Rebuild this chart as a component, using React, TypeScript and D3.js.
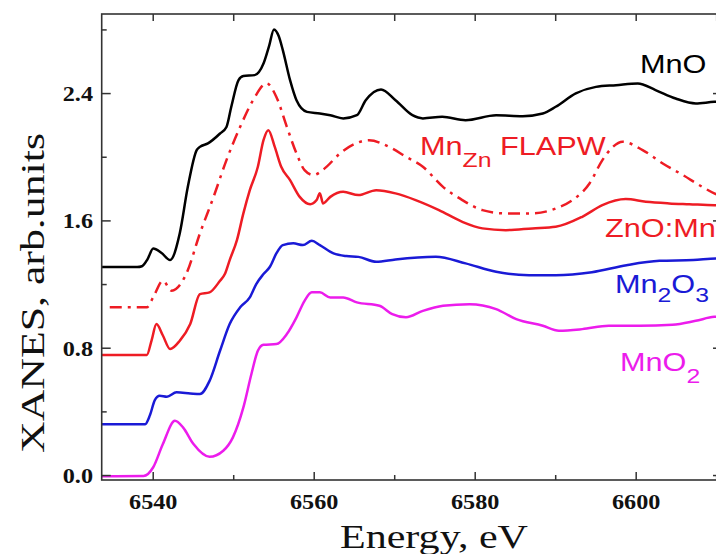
import React from "react";
import * as d3 from "d3";

const W = 716;
const H = 554;

const xTicksMajor = [6540, 6560, 6580, 6600];
const xTicksMinor = [6550, 6570, 6590, 6610];
const yTicksMajor = [0, 0.8, 1.6, 2.4];
const yTicksMinor = [0.4, 1.2, 2.0, 2.8];
const yTickLabels = ["0.0", "0.8", "1.6", "2.4"];

const mnoE = [6533.6, 6538.0, 6538.6, 6539.3, 6540.0, 6541.0, 6542.1, 6543.3, 6544.3, 6545.4, 6545.8, 6546.8, 6548.3, 6549.1, 6549.7, 6550.6, 6551.2, 6552.6, 6553.7, 6554.4, 6555.0, 6555.6, 6556.1, 6557.0, 6557.8, 6559.1, 6560.7, 6562.0, 6563.6, 6565.3, 6566.4, 6568.3, 6570.1, 6572.2, 6573.5, 6575.9, 6578.8, 6582.6, 6585.9, 6588.4, 6590.0, 6592.5, 6595.0, 6597.5, 6600.2, 6602.4, 6604.9, 6607.4, 6609.7, 6612];
const mnoV = [1.31, 1.31, 1.315, 1.36, 1.427, 1.4, 1.354, 1.523, 1.814, 2.045, 2.065, 2.087, 2.149, 2.19, 2.317, 2.484, 2.51, 2.516, 2.589, 2.7, 2.803, 2.76, 2.673, 2.484, 2.358, 2.285, 2.275, 2.264, 2.244, 2.264, 2.358, 2.426, 2.358, 2.264, 2.244, 2.254, 2.233, 2.264, 2.258, 2.275, 2.317, 2.401, 2.442, 2.453, 2.464, 2.422, 2.369, 2.338, 2.348, 2.35];

const flapwE = [6534.6, 6539.2, 6540.0, 6541.2, 6542.3, 6544.1, 6545.8, 6547.5, 6549.1, 6550.8, 6552.4, 6554.1, 6555.3, 6556.6, 6557.8, 6558.8, 6559.9, 6561.3, 6563.2, 6565.3, 6566.8, 6569.3, 6571.4, 6573.5, 6576.0, 6578.4, 6580.9, 6583.8, 6587.1, 6590.0, 6592.1, 6594.2, 6595.8, 6597.1, 6598.3, 6600.8, 6603.3, 6605.8, 6608.2, 6609.7, 6612];
const flapwV = [1.057, 1.057, 1.12, 1.224, 1.161, 1.266, 1.521, 1.751, 1.982, 2.191, 2.358, 2.464, 2.379, 2.191, 2.024, 1.919, 1.888, 1.93, 2.024, 2.09, 2.107, 2.065, 2.003, 1.94, 1.814, 1.731, 1.668, 1.647, 1.647, 1.678, 1.731, 1.835, 1.982, 2.065, 2.097, 2.045, 1.961, 1.888, 1.814, 1.773, 1.74];

const znoE = [6533.6, 6539.2, 6539.8, 6540.4, 6541.2, 6542.1, 6543.3, 6544.6, 6545.8, 6547.0, 6548.3, 6548.9, 6549.5, 6550.4, 6551.2, 6552.0, 6553.0, 6553.7, 6554.3, 6555.1, 6555.9, 6557.0, 6558.2, 6559.5, 6560.3, 6560.7, 6561.1, 6562.0, 6563.6, 6565.5, 6567.7, 6570.1, 6572.6, 6575.5, 6578.4, 6580.9, 6583.8, 6587.1, 6590.0, 6593.3, 6595.8, 6598.7, 6601.2, 6604.1, 6606.6, 6609.7, 6612];
const znoV = [0.757, 0.757, 0.85, 0.952, 0.88, 0.795, 0.847, 0.952, 1.14, 1.151, 1.224, 1.266, 1.354, 1.479, 1.647, 1.793, 1.94, 2.107, 2.17, 2.065, 1.94, 1.856, 1.751, 1.705, 1.731, 1.773, 1.71, 1.751, 1.783, 1.762, 1.793, 1.773, 1.731, 1.668, 1.594, 1.553, 1.542, 1.553, 1.563, 1.626, 1.699, 1.737, 1.72, 1.71, 1.705, 1.699, 1.7];

const mn2o3E = [6533.6, 6539.0, 6539.6, 6540.2, 6540.8, 6541.7, 6542.9, 6544.6, 6545.8, 6547.0, 6548.3, 6549.5, 6550.8, 6552.0, 6552.8, 6553.7, 6554.5, 6555.3, 6556.1, 6557.4, 6558.6, 6559.7, 6560.7, 6562.4, 6564.0, 6565.5, 6567.7, 6570.1, 6575.1, 6578.8, 6582.6, 6586.7, 6590.0, 6594.5, 6598.8, 6602.9, 6607.1, 6609.9, 6612];
const mn2o3V = [0.323, 0.323, 0.38, 0.474, 0.501, 0.495, 0.523, 0.516, 0.512, 0.595, 0.784, 0.952, 1.057, 1.119, 1.203, 1.266, 1.312, 1.396, 1.448, 1.459, 1.448, 1.475, 1.448, 1.396, 1.379, 1.374, 1.343, 1.358, 1.374, 1.333, 1.28, 1.259, 1.259, 1.278, 1.322, 1.349, 1.354, 1.364, 1.365];

const mno2E = [6533.6, 6538.8, 6540.0, 6541.2, 6542.7, 6543.7, 6545.0, 6547.0, 6548.7, 6549.9, 6551.2, 6552.2, 6553.0, 6553.7, 6555.3, 6556.6, 6557.8, 6558.8, 6559.7, 6560.7, 6562.0, 6563.6, 6565.3, 6568.1, 6569.7, 6571.4, 6573.5, 6576.0, 6579.3, 6582.6, 6585.1, 6588.4, 6590.4, 6593.3, 6596.6, 6600.4, 6604.5, 6607.4, 6609.7, 6612];
const mno2V = [-0.005, -0.003, 0.052, 0.198, 0.344, 0.303, 0.198, 0.118, 0.156, 0.24, 0.428, 0.638, 0.784, 0.822, 0.826, 0.889, 0.994, 1.098, 1.151, 1.151, 1.119, 1.119, 1.088, 1.067, 1.014, 0.994, 1.035, 1.067, 1.077, 1.046, 0.983, 0.941, 0.91, 0.92, 0.941, 0.941, 0.947, 0.972, 0.997, 1.0];

const RED = "#ee1c24";
const BLUE = "#1a1ad6";
const MAGENTA = "#ec1cec";

const series = [
  { e: mnoE, v: mnoV, color: "#000000", dash: undefined as string | undefined },
  { e: flapwE, v: flapwV, color: RED, dash: "12,6,3,6" },
  { e: znoE, v: znoV, color: RED, dash: undefined },
  { e: mn2o3E, v: mn2o3V, color: BLUE, dash: undefined },
  { e: mno2E, v: mno2V, color: MAGENTA, dash: undefined },
];

const L = 101.7, R = 722, T = 14, B = 480;
const x = d3.scaleLinear().domain([6533.6, 6610.66]).range([L, R]);
const y = d3.scaleLinear().domain([-0.028, 2.9]).range([B, T]);

const SERIF = "'Liberation Serif', 'Times New Roman', serif";
const SANS = "'Liberation Sans', Arial, sans-serif";

export default function App() {
  const line = d3
    .line<[number, number]>()
    .x((d) => x(d[0]))
    .y((d) => y(d[1]))
    .curve(d3.curveMonotoneX);
  const axisColor = "#333";
  const sx = 1.18;
  return (
    <svg width={W} height={H} style={{ position: "absolute", left: 0, top: 0, background: "#fff" }}>
      <defs>
        <clipPath id="plot">
          <rect x={L} y={T} width={R - L} height={B - T} />
        </clipPath>
      </defs>
      <rect x={0} y={0} width={W} height={H} fill="#fff" />
      <g clipPath="url(#plot)" fill="none" strokeWidth={2.5} strokeLinejoin="round">
        {series.map((s, i) => (
          <path
            key={i}
            d={line(s.e.map((e, j) => [e, s.v[j]] as [number, number])) || ""}
            stroke={s.color}
            strokeDasharray={s.dash}
          />
        ))}
      </g>
      {/* frame */}
      <rect x={L} y={T} width={R - L} height={B - T} fill="none" stroke={axisColor} strokeWidth={1.6} />
      {/* x ticks */}
      {xTicksMajor.map((t) => (
        <g key={"xM" + t}>
          <line x1={x(t)} x2={x(t)} y1={B} y2={B - 8} stroke={axisColor} strokeWidth={1.5} />
          <line x1={x(t)} x2={x(t)} y1={T} y2={T + 7} stroke={axisColor} strokeWidth={1.5} />
          <text
            transform={`translate(${x(t)},${509}) scale(1.1,1)`}
            textAnchor="middle"
            fontFamily={SERIF}
            fontWeight="bold"
            fontSize={22}
            fill="#111"
          >
            {t}
          </text>
        </g>
      ))}
      {xTicksMinor.map((t) => (
        <g key={"xm" + t}>
          <line x1={x(t)} x2={x(t)} y1={B} y2={B - 5} stroke={axisColor} strokeWidth={1.5} />
          <line x1={x(t)} x2={x(t)} y1={T} y2={T + 7} stroke={axisColor} strokeWidth={1.5} />
        </g>
      ))}
      {/* y ticks */}
      {yTicksMajor.map((t, i) => (
        <g key={"yM" + t}>
          <line x1={L} x2={L + 9} y1={y(t)} y2={y(t)} stroke={axisColor} strokeWidth={1.5} />
          <line x1={R} x2={R - 9} y1={y(t)} y2={y(t)} stroke={axisColor} strokeWidth={1.5} />
          <text
            transform={`translate(${93},${y(t) + 7.5}) scale(1.1,1)`}
            textAnchor="end"
            fontFamily={SERIF}
            fontWeight="bold"
            fontSize={22}
            fill="#111"
          >
            {yTickLabels[i]}
          </text>
        </g>
      ))}
      {yTicksMinor.map((t) => (
        <g key={"ym" + t}>
          <line x1={L} x2={L + 5} y1={y(t)} y2={y(t)} stroke={axisColor} strokeWidth={1.5} />
          <line x1={R} x2={R - 5} y1={y(t)} y2={y(t)} stroke={axisColor} strokeWidth={1.5} />
        </g>
      ))}
      {/* axis titles */}
      <text
        x={434}
        y={548}
        textAnchor="middle"
        fontFamily={SERIF}
        fontSize={34}
        fill="#111"
        textLength={188}
        lengthAdjust="spacingAndGlyphs"
      >
        Energy, eV
      </text>
      <text
        transform={`translate(${44},${293}) rotate(-90)`}
        textAnchor="middle"
        fontFamily={SERIF}
        fontSize={34}
        fill="#111"
        textLength={320}
        lengthAdjust="spacingAndGlyphs"
      >
        XANES, arb.units
      </text>
      {/* curve labels */}
      <text transform={`translate(640,73) scale(${sx},1)`} fontFamily={SANS} fontSize={26} fill="#000">
        MnO
      </text>
      <text transform={`translate(420,155) scale(${sx},1)`} fontFamily={SANS} fontSize={26} fill={RED}>
        Mn
        <tspan fontSize={21} dy={12}>Zn</tspan>
        <tspan dy={-12}> FLAPW</tspan>
      </text>
      <text transform={`translate(605,237) scale(${sx},1)`} fontFamily={SANS} fontSize={26} fill={RED}>
        ZnO:Mn
      </text>
      <text transform={`translate(615,293) scale(${sx},1)`} fontFamily={SANS} fontSize={26} fill={BLUE}>
        Mn
        <tspan fontSize={21} dy={9}>2</tspan>
        <tspan dy={-9}>O</tspan>
        <tspan fontSize={21} dy={9}>3</tspan>
      </text>
      <text transform={`translate(620,371) scale(${sx},1)`} fontFamily={SANS} fontSize={26} fill={MAGENTA}>
        MnO
        <tspan fontSize={21} dy={12}>2</tspan>
      </text>
    </svg>
  );
}
